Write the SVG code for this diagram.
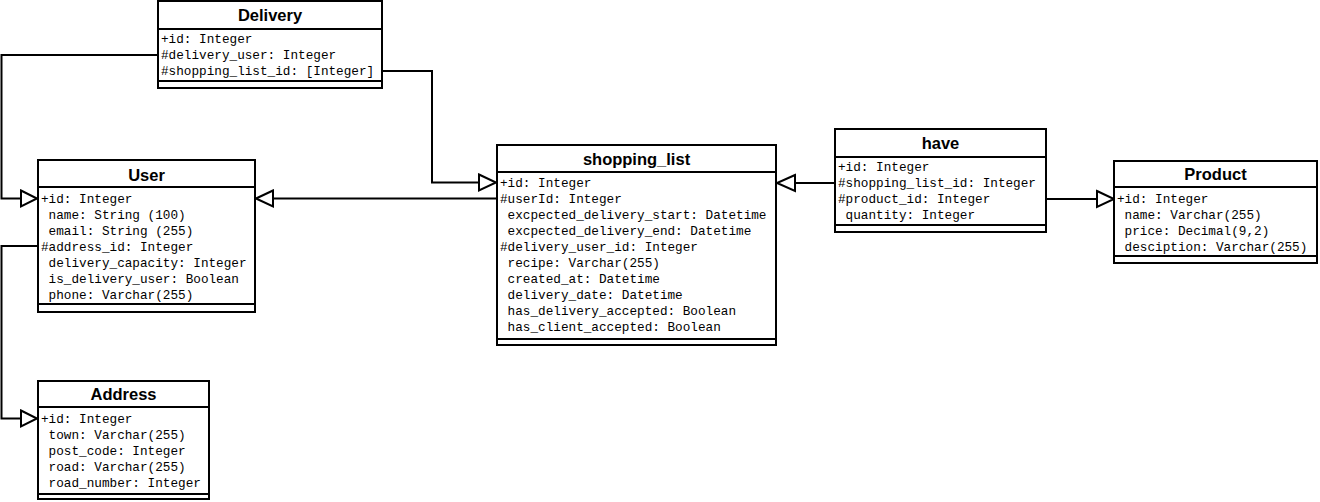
<svg xmlns="http://www.w3.org/2000/svg" width="1320" height="502" viewBox="0 0 1320 502">
<style>
.box{fill:#fff;stroke:#000;stroke-width:2}
.sep{stroke:#000;stroke-width:2}
.hd{font-family:"Liberation Sans",Arial,sans-serif;font-weight:bold;font-size:16.5px;text-anchor:middle;fill:#000}
.at{font-family:"Liberation Mono","Courier New",monospace;font-size:12.7px;fill:#000;white-space:pre}
.ln{fill:none;stroke:#000;stroke-width:2}
.ar{fill:#fff;stroke:#000;stroke-width:2;stroke-linejoin:miter}
</style>
<rect width="1320" height="502" fill="#fff"/>
<g id="connectors">
<path class="ln" d="M158,55 H1.5 V198.5 H21"/>
<polygon class="ar" points="21,190.5 37,198.5 21,206.5"/>
<path class="ln" d="M382,71 H432 V182.5 H479"/>
<polygon class="ar" points="479,174.5 496,182.5 479,190.5"/>
<path class="ln" d="M497,198.5 H273"/>
<polygon class="ar" points="273,190.5 256,198.5 273,206.5"/>
<path class="ln" d="M38,246 H1.5 V418.5 H21"/>
<polygon class="ar" points="21,410.5 37,418.5 21,426.5"/>
<path class="ln" d="M835,183 H795"/>
<polygon class="ar" points="795,175 777,183 795,191"/>
<path class="ln" d="M1046,199 H1097"/>
<polygon class="ar" points="1097,191 1114,199 1097,207"/>
</g>
<g id="Delivery">
<rect class="box" x="158" y="1" width="224" height="87"/>
<line class="sep" x1="158" y1="29" x2="382" y2="29"/>
<line class="sep" x1="158" y1="81" x2="382" y2="81"/>
<text class="hd" x="270" y="21">Delivery</text>
<text class="at" x="161" y="43">+id: Integer</text>
<text class="at" x="161" y="59">#delivery_user: Integer</text>
<text class="at" x="161" y="75">#shopping_list_id: [Integer]</text>
</g>
<g id="User">
<rect class="box" x="38" y="160" width="217" height="152"/>
<line class="sep" x1="38" y1="187" x2="255" y2="187"/>
<line class="sep" x1="38" y1="304" x2="255" y2="304"/>
<text class="hd" x="146.5" y="181">User</text>
<text class="at" x="41" y="203">+id: Integer</text>
<text class="at" x="41" y="219"> name: String (100)</text>
<text class="at" x="41" y="235"> email: String (255)</text>
<text class="at" x="41" y="251">#address_id: Integer</text>
<text class="at" x="41" y="267"> delivery_capacity: Integer</text>
<text class="at" x="41" y="283"> is_delivery_user: Boolean</text>
<text class="at" x="41" y="299"> phone: Varchar(255)</text>
</g>
<g id="Address">
<rect class="box" x="38" y="381" width="171" height="118"/>
<line class="sep" x1="38" y1="407" x2="209" y2="407"/>
<line class="sep" x1="38" y1="494" x2="209" y2="494"/>
<text class="hd" x="123.5" y="400">Address</text>
<text class="at" x="41" y="423">+id: Integer</text>
<text class="at" x="41" y="439"> town: Varchar(255)</text>
<text class="at" x="41" y="455"> post_code: Integer</text>
<text class="at" x="41" y="471"> road: Varchar(255)</text>
<text class="at" x="41" y="487"> road_number: Integer</text>
</g>
<g id="shopping_list">
<rect class="box" x="497" y="145" width="279" height="200"/>
<line class="sep" x1="497" y1="172" x2="776" y2="172"/>
<line class="sep" x1="497" y1="339" x2="776" y2="339"/>
<text class="hd" x="636.5" y="165">shopping_list</text>
<text class="at" x="500" y="187">+id: Integer</text>
<text class="at" x="500" y="203">#userId: Integer</text>
<text class="at" x="500" y="219"> excpected_delivery_start: Datetime</text>
<text class="at" x="500" y="235"> excpected_delivery_end: Datetime</text>
<text class="at" x="500" y="251">#delivery_user_id: Integer</text>
<text class="at" x="500" y="267"> recipe: Varchar(255)</text>
<text class="at" x="500" y="283"> created_at: Datetime</text>
<text class="at" x="500" y="299"> delivery_date: Datetime</text>
<text class="at" x="500" y="315"> has_delivery_accepted: Boolean</text>
<text class="at" x="500" y="331"> has_client_accepted: Boolean</text>
</g>
<g id="have">
<rect class="box" x="835" y="129" width="211" height="103"/>
<line class="sep" x1="835" y1="157" x2="1046" y2="157"/>
<line class="sep" x1="835" y1="225" x2="1046" y2="225"/>
<text class="hd" x="940.5" y="149">have</text>
<text class="at" x="838" y="171">+id: Integer</text>
<text class="at" x="838" y="187">#shopping_list_id: Integer</text>
<text class="at" x="838" y="203">#product_id: Integer</text>
<text class="at" x="838" y="219"> quantity: Integer</text>
</g>
<g id="Product">
<rect class="box" x="1114" y="161" width="203" height="102"/>
<line class="sep" x1="1114" y1="187" x2="1317" y2="187"/>
<line class="sep" x1="1114" y1="256" x2="1317" y2="256"/>
<text class="hd" x="1215.5" y="180">Product</text>
<text class="at" x="1117" y="203">+id: Integer</text>
<text class="at" x="1117" y="219"> name: Varchar(255)</text>
<text class="at" x="1117" y="235"> price: Decimal(9,2)</text>
<text class="at" x="1117" y="251"> desciption: Varchar(255)</text>
</g>
</svg>
